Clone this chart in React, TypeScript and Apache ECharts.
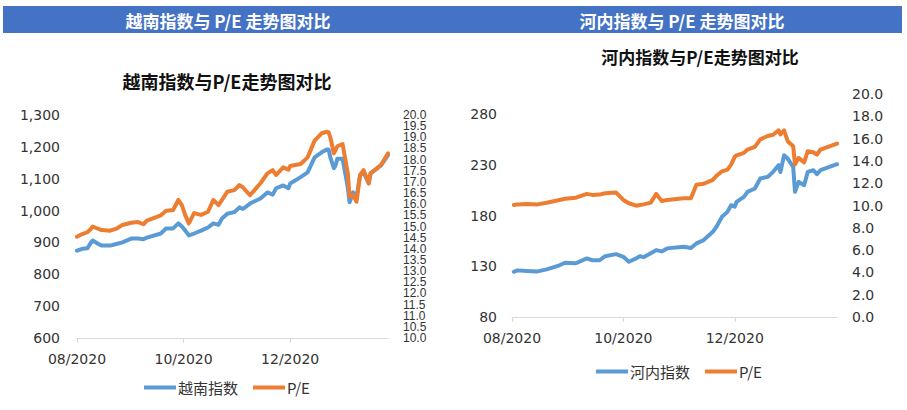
import React, { useEffect, useRef } from "react";
import * as echarts from "echarts";

// ---- Data: 越南指数 (VN-Index) and its P/E ----
const vnDates = [
  "2020-08-01", "2020-08-04", "2020-08-07", "2020-08-09", "2020-08-10", "2020-08-13", "2020-08-15", "2020-08-20", "2020-08-24", "2020-08-27",
  "2020-09-01", "2020-09-05", "2020-09-08", "2020-09-10", "2020-09-18", "2020-09-21", "2020-09-25", "2020-09-28", "2020-09-30", "2020-10-02",
  "2020-10-04", "2020-10-07", "2020-10-11", "2020-10-15", "2020-10-18", "2020-10-21", "2020-10-23", "2020-10-26", "2020-10-30", "2020-11-02",
  "2020-11-04", "2020-11-08", "2020-11-14", "2020-11-18", "2020-11-21", "2020-11-23", "2020-11-27", "2020-11-30", "2020-12-01", "2020-12-07",
  "2020-12-11", "2020-12-15", "2020-12-19", "2020-12-22", "2020-12-23", "2020-12-24", "2020-12-26", "2020-12-27", "2020-12-28", "2020-12-31",
  "2021-01-03", "2021-01-04", "2021-01-06", "2021-01-08", "2021-01-10", "2021-01-12", "2021-01-15", "2021-01-16", "2021-01-22", "2021-01-26",
];
const vnIndex = [
  874, 880, 882, 900, 906, 896, 890, 890, 896, 900,
  912, 912, 910, 915, 928, 944, 944, 960, 950, 937,
  922, 928, 937, 947, 960, 955, 975, 990, 995, 1010,
  1005, 1022, 1038, 1057, 1050, 1070, 1079, 1070, 1085, 1105,
  1120, 1167, 1183, 1192, 1192, 1167, 1133, 1142, 1163, 1163,
  1073, 1026, 1057, 1042, 1110, 1120, 1085, 1117, 1142, 1174,
];
const vnPE = [
  14.54, 14.66, 14.75, 14.9, 15.0, 14.9, 14.84, 14.81, 14.92, 15.07,
  15.17, 15.2, 15.1, 15.26, 15.5, 15.71, 15.74, 16.19, 15.96, 15.5,
  15.14, 15.6, 15.52, 15.66, 16.19, 15.96, 16.19, 16.56, 16.63, 16.86,
  16.75, 16.4, 16.94, 17.38, 17.53, 17.31, 17.65, 17.55, 17.71, 17.8,
  18.1, 18.85, 19.18, 19.25, 19.22, 19.0, 18.28, 18.43, 18.6, 18.7,
  17.38, 16.34, 16.41, 16.11, 17.31, 17.53, 16.94, 17.38, 17.76, 18.28,
];

// ---- Data: 河内指数 (HNX-Index) and its P/E ----
const hnDates = [
  "2020-08-02", "2020-08-04", "2020-08-09", "2020-08-15", "2020-08-20", "2020-08-27", "2020-08-30", "2020-09-05", "2020-09-11", "2020-09-14",
  "2020-09-18", "2020-09-21", "2020-09-27", "2020-10-01", "2020-10-04", "2020-10-08", "2020-10-10", "2020-10-12", "2020-10-16", "2020-10-19",
  "2020-10-22", "2020-10-25", "2020-11-03", "2020-11-07", "2020-11-10", "2020-11-14", "2020-11-19", "2020-11-21", "2020-11-24", "2020-11-27",
  "2020-11-29", "2020-12-01", "2020-12-02", "2020-12-06", "2020-12-08", "2020-12-12", "2020-12-15", "2020-12-19", "2020-12-22", "2020-12-25",
  "2020-12-26", "2020-12-28", "2020-12-30", "2021-01-02", "2021-01-03", "2021-01-05", "2021-01-08", "2021-01-10", "2021-01-13", "2021-01-15",
  "2021-01-17", "2021-01-26",
];
const hnIndex = [
  124.6, 126, 125.5, 125, 127, 131, 133.5, 133, 137.8, 136,
  136, 140, 142, 139.4, 134.5, 137.8, 140, 139, 142.8, 146,
  144.7, 147.7, 149.3, 148, 152.6, 155.9, 164, 169, 178.8, 183.7,
  190.3, 188.8, 193.6, 198.5, 203.5, 206.8, 216.6, 218.2, 223.2, 229.8,
  223, 239.6, 236.3, 228, 203.5, 213.3, 210, 223.2, 224.8, 220.9,
  224.8, 230.7,
];
const hnPE = [
  10.05, 10.1, 10.14, 10.1, 10.25, 10.5, 10.6, 10.7, 11.04, 10.95,
  10.98, 11.1, 11.16, 10.5, 10.2, 9.98, 10.05, 10.1, 10.26, 11.04,
  10.4, 10.5, 10.65, 10.65, 11.86, 11.95, 12.3, 12.67, 13.06, 13.21,
  13.67, 14.36, 14.5, 14.72, 15.02, 15.26, 15.93, 16.23, 16.35, 16.74,
  16.38, 16.74, 15.77, 15.32, 13.67, 14.27, 13.87, 14.87, 14.78, 14.57,
  15.02, 15.56,
];

// ---- Axis labels ----
const xStart = "2020-08-01";
const xEnd = "2021-01-26";
const xTickDates = ["2020-08-01", "2020-10-01", "2020-12-01"];
const xTickLabels = ["08/2020", "10/2020", "12/2020"];
const headerTitles = ["越南指数与 P/E 走势图对比", "河内指数与 P/E 走势图对比"];
const chartTitles = ["越南指数与P/E走势图对比", "河内指数与P/E走势图对比"];
const seriesNames = ["越南指数", "P/E", "河内指数", "P/E"];

const BLUE = "#5B9BD5";
const ORANGE = "#ED7D31";
const NUM_FONT = "DejaVu Sans";
const NARROW_FONT = "'Liberation Sans', sans-serif";
const CJK_FONT = "'Noto Sans CJK SC', 'Noto Sans', sans-serif";

function dayOf(s: string): number {
  const [y, m, d] = s.split("-").map(Number);
  return Math.round((Date.UTC(y, m - 1, d) - Date.UTC(2020, 7, 1)) / 86400000);
}

const tickDays = xTickDates.map(dayOf);

function xAxis(gridIndex: number, margin: number) {
  return {
    type: "value",
    gridIndex,
    min: dayOf(xStart),
    max: dayOf(xEnd),
    interval: 61,
    axisLine: { show: true, lineStyle: { color: "#D9D9D9", width: 1 } },
    axisTick: { show: true, length: 5, lineStyle: { color: "#D9D9D9" }, customValues: tickDays },
    splitLine: { show: false },
    axisLabel: {
      customValues: tickDays,
      margin,
      color: "#333",
      fontSize: 14,
      fontFamily: NUM_FONT,
      showMinLabel: true,
      showMaxLabel: true,
      hideOverlap: false,
      formatter: (v: number) => {
        const i = tickDays.indexOf(Math.round(v));
        return i >= 0 ? xTickLabels[i] : "";
      },
    },
  };
}

function yAxis(
  gridIndex: number,
  position: string,
  min: number,
  max: number,
  interval: number,
  fmt: (v: number) => string,
  font: any,
  showMin = true,
  showMax = true
) {
  return {
    type: "value",
    gridIndex,
    position,
    min,
    max,
    interval,
    axisLine: { show: false },
    axisTick: { show: false },
    splitLine: { show: false },
    axisLabel: {
      color: "#333",
      formatter: fmt,
      showMinLabel: showMin,
      showMaxLabel: showMax,
      hideOverlap: false,
      ...font,
    },
  };
}

function lineSeries(name: string, dates: string[], values: number[], xi: number, yi: number, color: string) {
  return {
    type: "line",
    name,
    xAxisIndex: xi,
    yAxisIndex: yi,
    data: dates.map((d, i) => [dayOf(d), values[i]]),
    showSymbol: false,
    symbol: "none",
    smooth: false,
    itemStyle: { color },
    lineStyle: { color, width: 4, cap: "round", join: "round" },
  };
}

export default function App() {
  const ref = useRef<HTMLDivElement>(null);

  useEffect(() => {
    document.body.style.margin = "0";
    if (!ref.current) return;
    const chart = echarts.init(ref.current, undefined, { renderer: "svg" });

    const legendCommon = {
      orient: "horizontal",
      padding: 0,
      itemWidth: 32,
      itemHeight: 4,
      itemGap: 15,
      icon: "rect",
      selectedMode: false,
      textStyle: { fontSize: 15, color: "#333", fontFamily: CJK_FONT, padding: [0, 0, 0, -3] },
    };

    const headerText = (x: number, text: string) => ({
      type: "text",
      x,
      y: 20,
      style: {
        text,
        fill: "#fff",
        fontSize: 17,
        fontWeight: "bold",
        fontFamily: CJK_FONT,
        align: "center",
        verticalAlign: "middle",
      },
    });

    const peFont = { fontSize: 12, fontFamily: NARROW_FONT, margin: 15 };

    chart.setOption({
      animation: false,
      backgroundColor: "#fff",
      title: [
        {
          text: chartTitles[0],
          left: 227,
          top: 72,
          textAlign: "center",
          padding: 0,
          textStyle: { fontSize: 18, fontWeight: "bold", color: "#111", fontFamily: CJK_FONT },
        },
        {
          text: chartTitles[1],
          left: 700,
          top: 48,
          textAlign: "center",
          padding: 0,
          textStyle: { fontSize: 17, fontWeight: "bold", color: "#111", fontFamily: CJK_FONT },
        },
      ],
      graphic: [
        { type: "rect", shape: { x: 3, y: 6, width: 899, height: 27 }, style: { fill: "#4472C4" }, silent: true },
        headerText(228, headerTitles[0]),
        headerText(682, headerTitles[1]),
      ],
      legend: [
        { ...legendCommon, left: 144, top: 380, data: [seriesNames[0], seriesNames[1]] },
        { ...legendCommon, left: 596, top: 364, data: [seriesNames[2], seriesNames[3]] },
      ],
      grid: [
        { left: 77, right: 519, top: 115, bottom: 72, containLabel: false },
        { left: 512, right: 70, top: 94, bottom: 93, containLabel: false },
      ],
      xAxis: [xAxis(0, 14), xAxis(1, 14)],
      yAxis: [
        yAxis(0, "left", 600, 1300, 100, (v) => v.toLocaleString("en-US"), { fontSize: 14, fontFamily: NUM_FONT, margin: 17 }),
        // P/E axis of the left chart: whole-number labels (10.0 … 20.0)
        yAxis(0, "right", 10, 20, 1, (v) => v.toFixed(1), peFont),
        yAxis(1, "left", 80, 300, 50, (v) => String(v), { fontSize: 14, fontFamily: NUM_FONT, margin: 15 }, true, false),
        yAxis(1, "right", 0, 20, 2, (v) => v.toFixed(1), { fontSize: 14, fontFamily: NUM_FONT, margin: 15 }),
        // same P/E scale, carrying the half-step labels (10.5 … 19.5)
        yAxis(
          0,
          "right",
          10,
          20,
          0.5,
          (v) => (Math.abs(v - Math.round(v)) > 0.01 ? v.toFixed(1) : ""),
          peFont,
          false,
          false
        ),
      ],
      series: [
        lineSeries(seriesNames[0], vnDates, vnIndex, 0, 0, BLUE),
        lineSeries(seriesNames[1], vnDates, vnPE, 0, 1, ORANGE),
        lineSeries(seriesNames[2], hnDates, hnIndex, 1, 2, BLUE),
        lineSeries(seriesNames[3], hnDates, hnPE, 1, 3, ORANGE),
      ],
    });

    return () => chart.dispose();
  }, []);

  return <div ref={ref} style={{ width: 907, height: 410 }} />;
}
